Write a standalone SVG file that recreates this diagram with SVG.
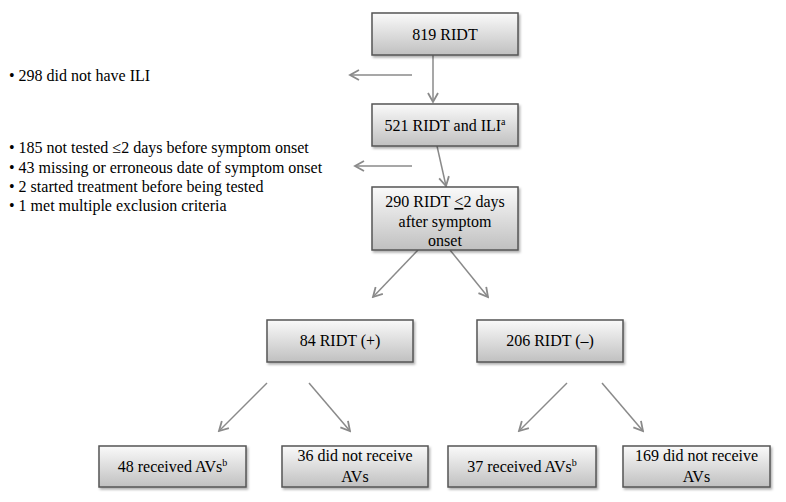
<svg xmlns="http://www.w3.org/2000/svg" width="786" height="502" viewBox="0 0 786 502">
<defs>
<linearGradient id="g" x1="0" y1="0" x2="0" y2="1">
<stop offset="0" stop-color="#fafafa"/>
<stop offset="1" stop-color="#c0c0c0"/>
</linearGradient>
<filter id="sh" x="-10%" y="-10%" width="130%" height="140%">
<feDropShadow dx="1.5" dy="2" stdDeviation="1.2" flood-color="#000" flood-opacity="0.3"/>
</filter>
<marker id="ah" viewBox="0 0 12 12" refX="10" refY="6" markerWidth="12" markerHeight="12" markerUnits="userSpaceOnUse" orient="auto">
<path d="M1,1 L10,6 L1,11" fill="none" stroke="#8a8a8a" stroke-width="1.8"/>
</marker>
</defs>
<style>
.box{fill:url(#g);stroke:#555;stroke-width:1.5;filter:url(#sh)}
.t{font-family:"Liberation Serif","Times New Roman",serif;font-size:16px;fill:#000;text-anchor:middle}
.l{font-family:"Liberation Serif","Times New Roman",serif;font-size:16px;fill:#000}
.c{stroke:#8a8a8a;stroke-width:1.5;fill:none;marker-end:url(#ah)}
.sup{font-size:10px}
</style>
<rect width="786" height="502" fill="#fff"/>
<g id="connectors">
<line class="c" x1="433" y1="55" x2="433" y2="102"/>
<line class="c" x1="412" y1="75" x2="350" y2="75"/>
<line class="c" x1="412" y1="166" x2="355" y2="166"/>
<line class="c" x1="437" y1="146" x2="446" y2="186"/>
<line class="c" x1="418" y1="250" x2="373" y2="297"/>
<line class="c" x1="450" y1="250" x2="488" y2="297"/>
<line class="c" x1="267" y1="383" x2="219" y2="431"/>
<line class="c" x1="309" y1="383" x2="350" y2="431"/>
<line class="c" x1="567" y1="383" x2="519" y2="431"/>
<line class="c" x1="602" y1="383" x2="643" y2="431"/>
</g>
<g id="n819">
<rect class="box" x="372" y="13" width="146" height="42"/>
<text class="t" x="445" y="40">819 RIDT</text>
</g>
<g id="n521">
<rect class="box" x="372" y="104" width="146" height="42"/>
<text class="t" x="445" y="131">521 RIDT and ILI<tspan class="sup" dy="-6">a</tspan></text>
</g>
<g id="n290">
<rect class="box" x="372" y="187" width="146" height="63"/>
<text class="t" x="445" y="207">290 RIDT <tspan text-decoration="underline">&lt;</tspan>2 days</text>
<text class="t" x="445" y="227">after symptom</text>
<text class="t" x="445" y="246">onset</text>
</g>
<g id="n84">
<rect class="box" x="267" y="320" width="146" height="42"/>
<text class="t" x="340" y="346">84 RIDT (+)</text>
</g>
<g id="n206">
<rect class="box" x="477" y="320" width="146" height="42"/>
<text class="t" x="550" y="346">206 RIDT (–)</text>
</g>
<g id="n48">
<rect class="box" x="99" y="446" width="147" height="41"/>
<text class="t" x="172.5" y="472">48 received AVs<tspan class="sup" dy="-6">b</tspan></text>
</g>
<g id="n36">
<rect class="box" x="282" y="446" width="146" height="41"/>
<text class="t" x="355" y="461">36 did not receive</text>
<text class="t" x="355" y="482">AVs</text>
</g>
<g id="n37">
<rect class="box" x="448" y="446" width="148" height="41"/>
<text class="t" x="522" y="472">37 received AVs<tspan class="sup" dy="-6">b</tspan></text>
</g>
<g id="n169">
<rect class="box" x="623" y="446" width="147" height="41"/>
<text class="t" x="696.5" y="461">169 did not receive</text>
<text class="t" x="696.5" y="482">AVs</text>
</g>
<g id="excl1">
<text class="l" x="9" y="81">• 298 did not have ILI</text>
</g>
<g id="excl2">
<text class="l" x="9" y="153">• 185 not tested ≤2 days before symptom onset</text>
<text class="l" x="9" y="173">• 43 missing or erroneous date of symptom onset</text>
<text class="l" x="9" y="192">• 2 started treatment before being tested</text>
<text class="l" x="9" y="211">• 1 met multiple exclusion criteria</text>
</g>
</svg>
